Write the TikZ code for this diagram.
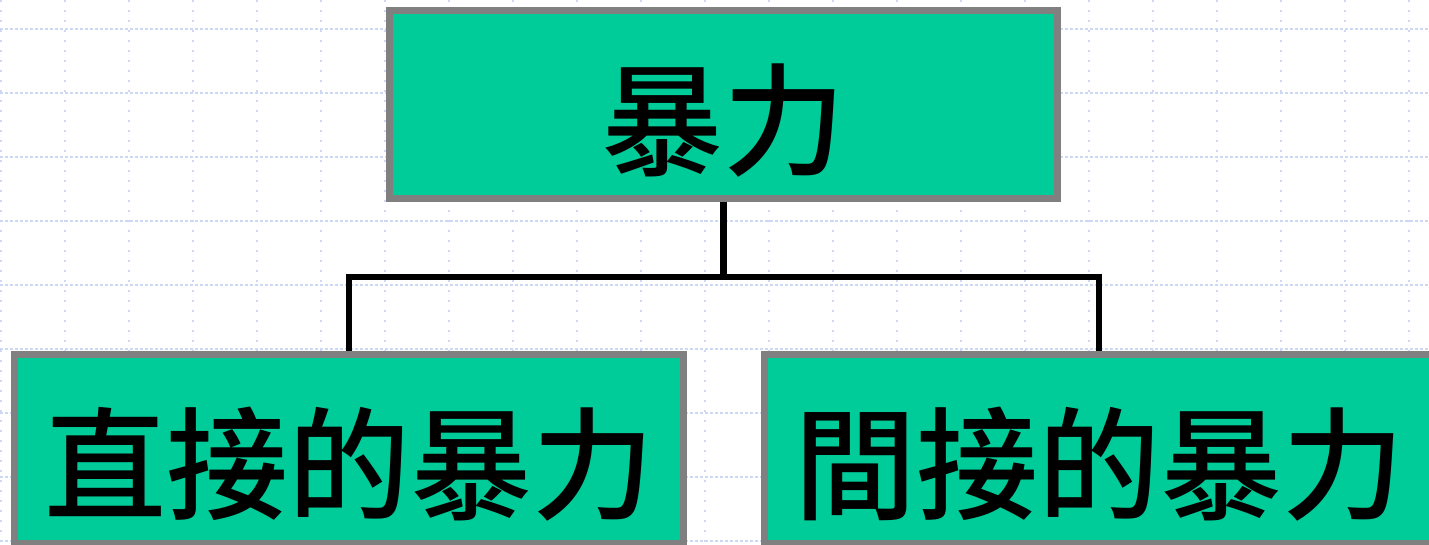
\documentclass[tikz,border=0pt]{standalone}
\usepackage{fontspec}
\newfontfamily\cjk{Noto Sans CJK TC}[UprightFont=* Medium]
\definecolor{boxgreen}{RGB}{0,204,153}
\definecolor{boxgray}{RGB}{128,128,128}
\definecolor{gridblue}{RGB}{205,216,246}
\begin{document}
\begin{tikzpicture}[x=1pt,y=-1pt,
  box/.style={draw=boxgray,fill=boxgreen,line width=7pt,inner sep=0pt,
    minimum width=669pt,minimum height=189pt,
    font=\cjk\fontsize{122}{122}\selectfont,
    text height=123pt,text depth=0pt},
  link/.style={draw=black,line width=6.5pt},
  hgrid/.style={draw=gridblue,line width=1.6pt,dash pattern=on 3pt off 2pt},
  vgrid/.style={draw=gridblue,line width=1.6pt,dash pattern=on 2pt off 8pt}]
\useasboundingbox (0,0) rectangle (1429,544);
\clip (0,0) rectangle (1429,544);
\fill[white] (0,0) rectangle (1429,544);
\foreach \k in {0,...,22} {\draw[vgrid] ({1+64*\k},0) -- ({1+64*\k},544);}
\foreach \k in {0,...,8} {\draw[hgrid] (0,{29+64*\k}) -- (1429,{29+64*\k});}
\node[box,minimum width=668pt,minimum height=188pt] (top) at (723.5,104.5) {暴力};
\node[box] (left) at (349,449) {直接的暴力};
\node[box] (right) at (1099,449) {間接的暴力};
\coordinate (j) at ([yshift=-75pt]top.south);
\draw[link] (top.south) -- (j);
\draw[link] (left.north) |- (j) -| (right.north);
\end{tikzpicture}
\end{document}
